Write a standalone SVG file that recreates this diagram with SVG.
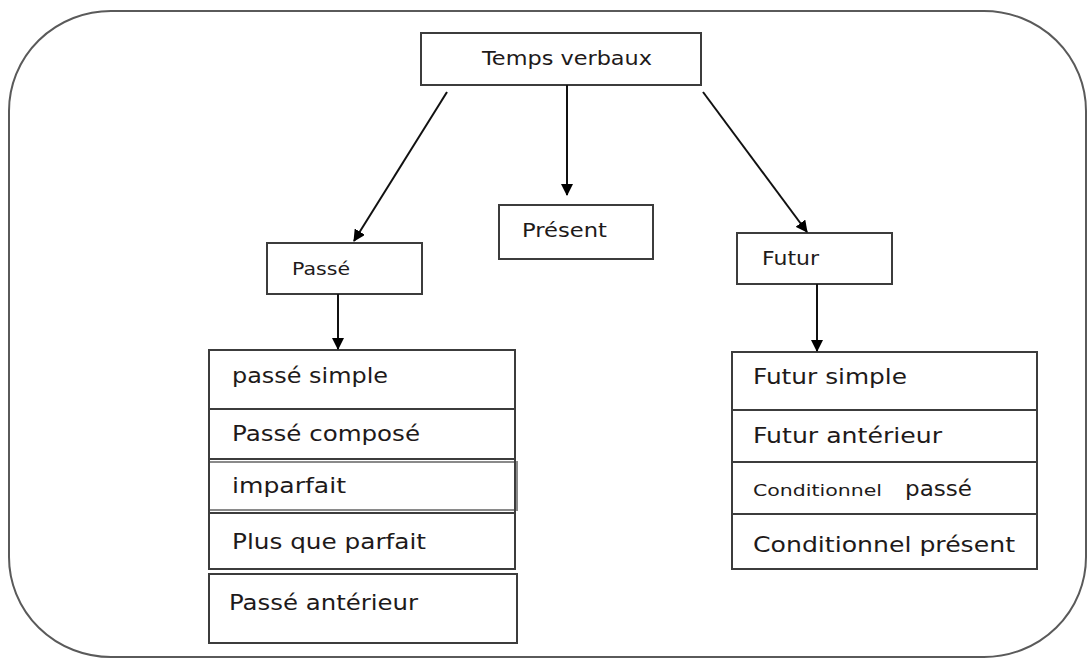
<svg xmlns="http://www.w3.org/2000/svg" width="1088" height="659" viewBox="0 0 1088 659">
  <style>
    .frame { fill: #ffffff; stroke: #5a5a5a; stroke-width: 2; }
    .box { fill: #ffffff; stroke: #3c3c3c; stroke-width: 2; }
    .soft { fill: none; stroke: #8a8a8a; stroke-width: 2; }
    .lbl { font-family: "DejaVu Sans", "Open Sans", sans-serif; fill: #1e1a1a; }
    .row { font-size: 21px; }
    .edge { fill: none; stroke: #111111; stroke-width: 2; }
  </style>
  <defs>
    <marker id="arrow" viewBox="0 0 12 12" refX="11" refY="6" markerWidth="12" markerHeight="12" markerUnits="userSpaceOnUse" orient="auto">
      <path d="M0,0 L12,6 L0,12 Z" fill="#000000"/>
    </marker>
  </defs>

  <rect width="1088" height="659" fill="#ffffff"/>

  <!-- outer frame -->
  <rect class="frame" x="9" y="11" width="1077" height="646" rx="102" ry="100"/>

  <!-- root -->
  <g id="temps-verbaux">
    <rect class="box" x="421" y="33" width="280" height="52"/>
    <text class="lbl" x="482" y="65" font-size="20" textLength="170" lengthAdjust="spacingAndGlyphs">Temps verbaux</text>
  </g>

  <!-- second level -->
  <g id="passe">
    <rect class="box" x="267" y="243" width="155" height="51"/>
    <text class="lbl" x="292" y="275" font-size="18" textLength="58" lengthAdjust="spacingAndGlyphs">Passé</text>
  </g>
  <g id="present">
    <rect class="box" x="499" y="205" width="154" height="54"/>
    <text class="lbl" x="522" y="237" font-size="19" textLength="85" lengthAdjust="spacingAndGlyphs">Présent</text>
  </g>
  <g id="futur">
    <rect class="box" x="737" y="233" width="155" height="51"/>
    <text class="lbl" x="762" y="265" font-size="19" textLength="57" lengthAdjust="spacingAndGlyphs">Futur</text>
  </g>

  <!-- past tenses -->
  <g id="passe-simple">
    <rect class="box" x="209" y="350" width="306" height="59"/>
    <text class="lbl row" x="232" y="383" textLength="156" lengthAdjust="spacingAndGlyphs">passé simple</text>
  </g>
  <g id="passe-compose">
    <rect class="box" x="209" y="409" width="306" height="50"/>
    <text class="lbl row" x="232" y="441" textLength="188" lengthAdjust="spacingAndGlyphs">Passé composé</text>
  </g>
  <g id="imparfait">
    <rect class="soft" x="209" y="462" width="308" height="48"/>
    <line class="box" x1="209" y1="459" x2="515" y2="459"/>
    <line class="box" x1="209" y1="513" x2="515" y2="513"/>
    <line class="box" x1="209" y1="459" x2="209" y2="513"/>
    <line class="box" x1="515" y1="459" x2="515" y2="513"/>
    <text class="lbl row" x="232" y="493" textLength="114" lengthAdjust="spacingAndGlyphs">imparfait</text>
  </g>
  <g id="plus-que-parfait">
    <rect class="box" x="209" y="513" width="306" height="56"/>
    <text class="lbl row" x="232" y="549" textLength="194" lengthAdjust="spacingAndGlyphs">Plus que parfait</text>
  </g>
  <g id="passe-anterieur">
    <rect class="box" x="209" y="574" width="308" height="69"/>
    <text class="lbl row" x="229" y="610" textLength="189" lengthAdjust="spacingAndGlyphs">Passé antérieur</text>
  </g>

  <!-- future tenses -->
  <g id="futur-simple">
    <rect class="box" x="732" y="352" width="305" height="58"/>
    <text class="lbl row" x="753" y="384" textLength="154" lengthAdjust="spacingAndGlyphs">Futur simple</text>
  </g>
  <g id="futur-anterieur">
    <rect class="box" x="732" y="410" width="305" height="52"/>
    <text class="lbl row" x="753" y="443" textLength="189" lengthAdjust="spacingAndGlyphs">Futur antérieur</text>
  </g>
  <g id="conditionnel-passe">
    <rect class="box" x="732" y="462" width="305" height="52"/>
    <text class="lbl" x="753" y="496" font-size="16" textLength="129" lengthAdjust="spacingAndGlyphs">Conditionnel</text>
    <text class="lbl row" x="905" y="496" textLength="67" lengthAdjust="spacingAndGlyphs">passé</text>
  </g>
  <g id="conditionnel-present">
    <rect class="box" x="732" y="514" width="305" height="55"/>
    <text class="lbl row" x="753" y="552" textLength="262" lengthAdjust="spacingAndGlyphs">Conditionnel présent</text>
  </g>

  <!-- connectors -->
  <g id="connectors">
    <line class="edge" x1="447" y1="92" x2="354" y2="241" marker-end="url(#arrow)"/>
    <line class="edge" x1="567" y1="85" x2="567" y2="195" marker-end="url(#arrow)"/>
    <line class="edge" x1="703" y1="92" x2="807" y2="232" marker-end="url(#arrow)"/>
    <line class="edge" x1="338" y1="294" x2="338" y2="349" marker-end="url(#arrow)"/>
    <line class="edge" x1="817" y1="284" x2="817" y2="351" marker-end="url(#arrow)"/>
  </g>
</svg>
